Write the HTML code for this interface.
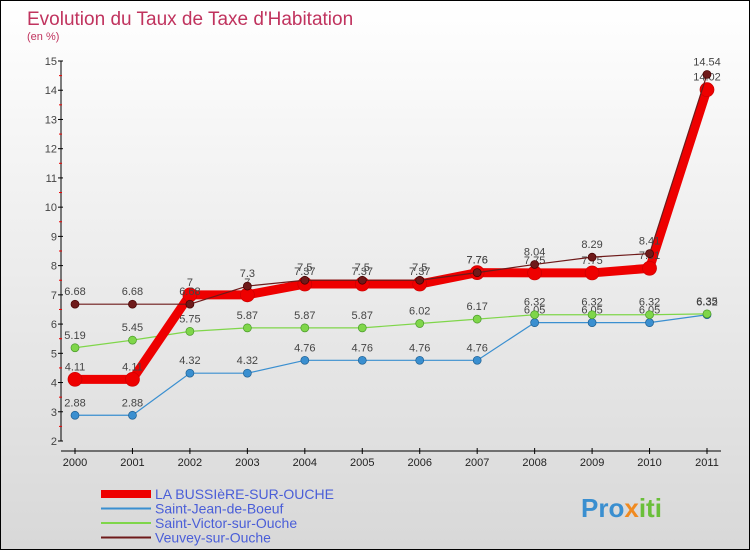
<!DOCTYPE html>
<html><head><meta charset="utf-8"><style>
body{margin:0}
#c{width:748px;height:548px;border:1px solid #000;background:linear-gradient(#fff,#d8d8d8);position:relative;overflow:hidden;font-family:"Liberation Sans",sans-serif}
</style></head><body>
<div id="c">
<svg id="s" width="748" height="548" xmlns="http://www.w3.org/2000/svg">
<text x="26" y="24" font-size="19" fill="#c0335e">Evolution du Taux de Taxe d'Habitation</text>
<text x="26" y="39" font-size="11" fill="#c0335e">(en %)</text>
<text x="580" y="516" font-size="26" font-weight="bold" fill="#3a8fd0">Pro<tspan fill="#f08a20">x</tspan><tspan fill="#6abf3a">iti</tspan></text>
</svg>
</div>
<script>
const years=[2000,2001,2002,2003,2004,2005,2006,2007,2008,2009,2010,2011];
const yTicks=[2,3,4,5,6,7,8,9,10,11,12,13,14,15];
const laBussiere=[4.11,4.11,7,7,7.37,7.37,7.37,7.76,7.75,7.75,7.91,14.02];
const saintJean=[2.88,2.88,4.32,4.32,4.76,4.76,4.76,4.76,6.05,6.05,6.05,6.32];
const saintVictor=[5.19,5.45,5.75,5.87,5.87,5.87,6.02,6.17,6.32,6.32,6.32,6.35];
const veuvey=[6.68,6.68,6.68,7.3,7.5,7.5,7.5,7.76,8.04,8.29,8.41,14.54];
const seriesNames=["LA BUSSIèRE-SUR-OUCHE","Saint-Jean-de-Boeuf","Saint-Victor-sur-Ouche","Veuvey-sur-Ouche"];
const NS="http://www.w3.org/2000/svg";
const s=document.getElementById('s');
const X=i=>74+i*(706-74)/(years.length-1);
const Y=v=>60+(15-v)*(440-60)/13;
function mk(t,a,p){const e=document.createElementNS(NS,t);for(const k in a)e.setAttribute(k,a[k]);(p||s).appendChild(e);return e;}
// axes
let ax=mk('line',{x1:60,y1:Y(15),x2:60,y2:440,stroke:'#000'});


let bx=mk('line',{x1:60,y1:450,x2:720,y2:450,stroke:'#000'});


yTicks.forEach(v=>{
 mk('line',{x1:57,x2:62,y1:Y(v),y2:Y(v),stroke:'#000'});
 if(v<15)mk('line',{x1:58,x2:61,y1:Y(v+0.5),y2:Y(v+0.5),stroke:'#e00'});
 const t=mk('text',{x:56,y:Y(v)+4,'font-size':11,fill:'#444','text-anchor':'end'});t.textContent=v;
 
 
});
years.forEach((y,i)=>{
 mk('line',{x1:X(i),x2:X(i),y1:447,y2:453,stroke:'#000'});
 const t=mk('text',{x:X(i),y:465,'font-size':11,fill:'#222','text-anchor':'middle'});t.textContent=y;
 
 
});
function series(data,color,w,r,name,stroke){
 const g=mk('g',{});
 
 
 mk('polyline',{points:data.map((v,i)=>X(i)+','+Y(v)).join(' '),fill:'none',stroke:color,'stroke-width':w,'stroke-linejoin':'round'},g);
 data.forEach((v,i)=>{
  const c=mk('circle',{cx:X(i),cy:Y(v),r:r,fill:color,stroke:stroke,'stroke-width':0.7},g);
  
  
  const t=mk('text',{x:X(i),y:Y(v)-9,'font-size':11,fill:'#444','text-anchor':'middle'},g);t.textContent=v;
 });
}
series(saintJean,'#3a8fd0',1.2,4,'series-saint-jean','#1f5f90');
series(saintVictor,'#7fd64a',1.2,4,'series-saint-victor','#4a9a2a');
series(laBussiere,'#ee0000',9,7,'series-la-bussiere','#c00');
series(veuvey,'#6e1a1a',1.2,4,'series-veuvey','#400');
// legend
const lc=['#ee0000','#3a8fd0','#7fd64a','#6e1a1a'],lw=[8,2,2,2];
seriesNames.forEach((n,i)=>{
 const y=493+i*14.5;
 const g=mk('g',{});
 
 
 mk('line',{x1:100,x2:150,y1:y,y2:y,stroke:lc[i],'stroke-width':lw[i]},g);
 const t=mk('text',{x:154,y:y+5,'font-size':14,fill:'#4a5ed8'},g);t.textContent=n;
});
</script>
</body></html>
